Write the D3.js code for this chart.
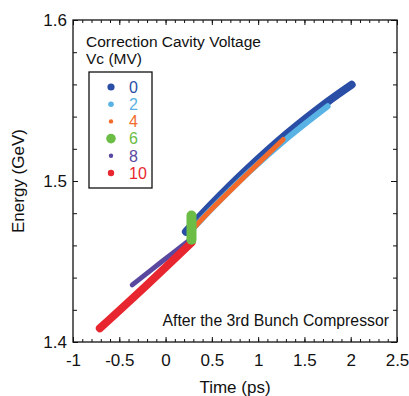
<!DOCTYPE html>
<html><head><meta charset="utf-8">
<script src="https://cdn.jsdelivr.net/npm/d3@7"></script>
<style>
html,body{margin:0;padding:0;background:#fff;}
text{font-family:"Liberation Sans",Arial,sans-serif;fill:#111;}
</style></head>
<body>
<svg id="c" width="409" height="396"></svg>
<script>
// ---- data ----
const seriesNames = ["0","2","4","6","8","10"];
const seriesColors = ["#2a4ea6","#58b2e4","#f26b2b","#6bbd45","#5a48a0","#e8262f"];
const t0 = [0.22, 0.5, 0.88, 1.31, 1.74, 2.01];
const e0 = [1.4685, 1.4857, 1.5072, 1.5293, 1.5488, 1.5598];
const t2 = [0.27, 0.52, 0.9, 1.32, 1.75];
const e2 = [1.4688, 1.4840, 1.5055, 1.5269, 1.5464];
const t4 = [0.30, 0.52, 0.88, 1.27];
const e4 = [1.4705, 1.4838, 1.5042, 1.5258];
const t6 = [0.28, 0.28];
const e6 = [1.4635, 1.4785];
const t8 = [-0.36, -0.05, 0.24];
const e8 = [1.4355, 1.4495, 1.4625];
const t10 = [-0.71, -0.2, 0.28];
const e10 = [1.4085, 1.4355, 1.4617];
const xMajor = [-1, -0.5, 0, 0.5, 1, 1.5, 2, 2.5];
const yMajor = [1.4, 1.5, 1.6];
const legendTitle = ["Correction Cavity Voltage", "Vc (MV)"];
const annotation = "After the 3rd Bunch Compressor";

// ---- layout ----
const L = 73, R = 397, T = 20, B = 342;
const svg = d3.select("#c");
const x = d3.scaleLinear().domain([-1, 2.5]).range([L, R]);
const y = d3.scaleLinear().domain([1.4, 1.6]).range([B, T]);
const xMinor = d3.range(-10, 26).map(v => v / 10);
const yMinor = d3.range(70, 81).map(v => v / 50);

const fmt = d => String(d);
// minor ticks
svg.append("g").attr("transform",`translate(0,${B})`)
  .call(d3.axisBottom(x).tickValues(xMinor).tickSize(-3).tickFormat(""));
svg.append("g").attr("transform",`translate(0,${T})`)
  .call(d3.axisTop(x).tickValues(xMinor).tickSize(-3).tickFormat(""));
svg.append("g").attr("transform",`translate(${L},0)`)
  .call(d3.axisLeft(y).tickValues(yMinor).tickSize(-4).tickFormat(""));
svg.append("g").attr("transform",`translate(${R},0)`)
  .call(d3.axisRight(y).tickValues(yMinor).tickSize(-4).tickFormat(""));
// major ticks with labels
const gx = svg.append("g").attr("transform",`translate(0,${B})`)
  .call(d3.axisBottom(x).tickValues(xMajor).tickSize(-5).tickPadding(12).tickFormat(fmt));
const gy = svg.append("g").attr("transform",`translate(${L},0)`)
  .call(d3.axisLeft(y).tickValues(yMajor).tickSize(-5).tickPadding(6).tickFormat(d => d.toFixed(1)));
svg.append("g").attr("transform",`translate(0,${T})`)
  .call(d3.axisTop(x).tickValues(xMajor).tickSize(-5).tickFormat(""));
svg.append("g").attr("transform",`translate(${R},0)`)
  .call(d3.axisRight(y).tickValues(yMajor).tickSize(-6).tickFormat(""));
svg.selectAll(".domain").remove();
svg.selectAll(".tick line").attr("stroke","#111").attr("stroke-width",1);
gx.selectAll("text").attr("font-size",17).attr("font-family","Liberation Sans, Arial, sans-serif").attr("fill","#111");
gy.selectAll("text").attr("font-size",17).attr("font-family","Liberation Sans, Arial, sans-serif").attr("fill","#111").attr("dy","0.35em");
// frame
svg.append("rect").attr("x",L).attr("y",T).attr("width",R-L).attr("height",B-T)
  .attr("fill","none").attr("stroke","#111").attr("stroke-width",1.3);

// axis titles
svg.append("text").attr("x",(L+R)/2).attr("y",393).attr("text-anchor","middle")
  .attr("font-size",17).text("Time (ps)");
svg.append("text").attr("transform",`translate(24,${(T+B)/2}) rotate(-90)`)
  .attr("text-anchor","middle").attr("font-size",17).text("Energy (GeV)");

// series
const ts = [t0,t2,t4,t6,t8,t10], es = [e0,e2,e4,e6,e8,e10];
const widths = [8, 6, 5, 10, 5, 8];
const order = [0,1,2,4,5,3];
const line = d3.line().x(d => x(d[0])).y(d => y(d[1])).curve(d3.curveCatmullRom);
order.forEach(i => {
  const pts = ts[i].map((t,k) => [t, es[i][k]]);
  svg.append("path").datum(pts).attr("d", line)
    .attr("fill","none").attr("stroke",seriesColors[i])
    .attr("stroke-width",widths[i]).attr("stroke-linecap","round").attr("stroke-linejoin","round");
});

// legend title
legendTitle.forEach((s,k) => {
  svg.append("text").attr("x",86).attr("y",47 + k*17).attr("font-size",15.5).text(s);
});
// legend box
svg.append("rect").attr("x",89).attr("y",72).attr("width",63).attr("height",116)
  .attr("fill","#fff").attr("stroke","#111").attr("stroke-width",1.3);
const dotR = [3.6, 2.8, 2.2, 4.8, 2.2, 3.2];
seriesNames.forEach((n,k) => {
  const cy = 87 + k*17.2;
  svg.append("circle").attr("cx",111).attr("cy",cy).attr("r",dotR[k]).attr("fill",seriesColors[k]);
  svg.append("text").attr("x",129).attr("y",cy).attr("dy","0.36em").attr("font-size",16)
    .style("fill",seriesColors[k]).text(n);
});

svg.append("text").attr("x",389).attr("y",326).attr("text-anchor","end").attr("font-size",15.8).text(annotation);
</script>
</body></html>
